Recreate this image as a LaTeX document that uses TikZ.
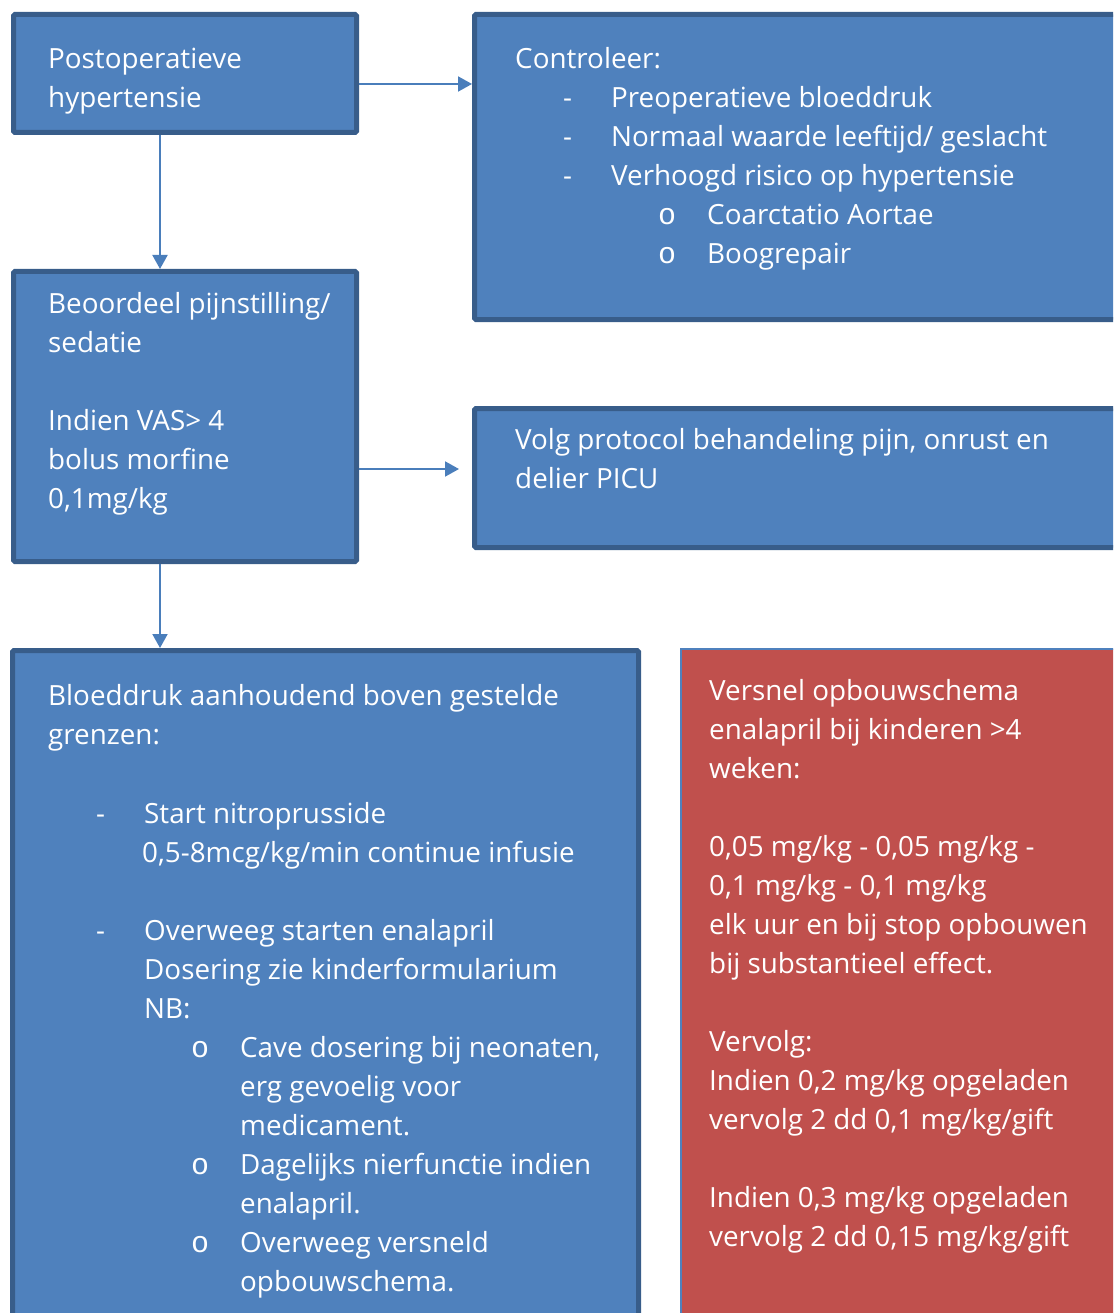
\documentclass[tikz,border=0pt]{standalone}
\usepackage{fontspec}
\setmainfont{Open Sans}
\newfontfamily\bulletfont{Liberation Mono}
\usetikzlibrary{arrows.meta,calc}
\definecolor{boxblue}{HTML}{4F81BD}
\definecolor{boxedge}{HTML}{385D8A}
\definecolor{boxred}{HTML}{C0504D}
\definecolor{arrowblue}{HTML}{4A7EBB}
\tikzset{
  bluebox/.style={draw=boxedge, fill=boxblue, line width=5pt, rounded corners=1.5pt, inner sep=0pt, outer sep=2.5pt, anchor=north west},
  redbox/.style={draw=boxblue, fill=boxred, line width=1.5pt, inner sep=0pt, outer sep=0.75pt, anchor=north west},
  txt/.style={text=white, inner sep=0pt, anchor=base west, font=\fontsize{27.8}{39}\selectfont},
  bul/.style={text=white, inner sep=0pt, anchor=base west, font=\bulletfont\fontsize{30}{39}\selectfont},
  arr/.style={draw=arrowblue, line width=2pt, -{Triangle[length=14pt,width=15pt]}}
}
\newcommand{\tl}[4]{\node[txt] (#1) at (#2,#3) {#4};}
\newcommand{\bl}[4]{\node[bul] (#1) at (#2,#3) {#4};}
\begin{document}
\begin{tikzpicture}[x=1pt,y=-1pt]
\useasboundingbox (0,0) rectangle (1113,1313);
\clip (0,0) rectangle (1113,1313);
% boxes
\node[bluebox, minimum width=343pt, minimum height=118pt] (b1) at (11,12) {};
\node[bluebox, minimum width=343pt, minimum height=290pt] (b2) at (11,269) {};
\node[bluebox, minimum width=660pt, minimum height=305pt] (ctrl) at (472,12) {};
\node[bluebox, minimum width=660pt, minimum height=139pt] (volg) at (472,406) {};
\node[bluebox, minimum width=626pt, minimum height=700pt] (bd) at (10,648) {};
\node[redbox, minimum width=460pt, minimum height=700pt] (red) at (680,648) {};
% arrows
\draw[arr] ([yshift=-10.5pt]b1.east) -- ([yshift=-10.5pt]b1.east -| ctrl.west);
\draw[arr] ([xshift=-25pt]b1.south) -- ([xshift=-25pt]b1.south |- b2.north);
\draw[arr] ([yshift=-52.5pt]b2.east) -- ([yshift=-52.5pt,xshift=-13pt]b2.east -| volg.west);
\draw[arr] ([xshift=-25pt]b2.south) -- ([xshift=-25pt]b2.south |- bd.north);
% box 1
\tl{t11}{48}{69}{Postoperatieve}
\tl{t12}{48}{108}{hypertensie}
% box 2
\tl{t21}{48}{313}{Beoordeel pijnstilling/}
\tl{t22}{48}{352}{sedatie}
\tl{t23}{48}{430}{Indien VAS> 4}
\tl{t24}{48}{469}{bolus morfine}
\tl{t25}{48}{508}{0,1mg/kg}
% controleer
\tl{c1}{515}{69}{Controleer:}
\tl{c2d}{563}{108}{-}
\tl{c2}{611}{108}{Preoperatieve bloeddruk}
\tl{c3d}{563}{147}{-}
\tl{c3}{611}{147}{Normaal waarde leeftijd/ geslacht}
\tl{c4d}{563}{186}{-}
\tl{c4}{611}{186}{Verhoogd risico op hypertensie}
\bl{c5b}{658}{225}{o}
\tl{c5}{707}{225}{Coarctatio Aortae}
\bl{c6b}{658}{264}{o}
\tl{c6}{707}{264}{Boogrepair}
% volg
\tl{v1}{515}{449}{Volg protocol behandeling pijn, onrust en}
\tl{v2}{515}{488}{delier PICU}
% bloeddruk
\tl{d1}{48}{705}{Bloeddruk aanhoudend boven gestelde}
\tl{d2}{48}{744}{grenzen:}
\tl{d3d}{96}{823}{-}
\tl{d3}{144}{823}{Start nitroprusside}
\tl{d4}{142}{862}{0,5-8mcg/kg/min continue infusie}
\tl{d5d}{96}{940}{-}
\tl{d5}{144}{940}{Overweeg starten enalapril}
\tl{d6}{144}{979}{Dosering zie kinderformularium}
\tl{d7}{144}{1018}{NB:}
\bl{d8b}{191}{1057}{o}
\tl{d8}{240}{1057}{Cave dosering bij neonaten,}
\tl{d9}{240}{1096}{erg gevoelig voor}
\tl{d10}{240}{1135}{medicament.}
\bl{d11b}{191}{1174}{o}
\tl{d11}{240}{1174}{Dagelijks nierfunctie indien}
\tl{d12}{240}{1213}{enalapril.}
\bl{d13b}{191}{1252}{o}
\tl{d13}{240}{1252}{Overweeg versneld}
\tl{d14}{240}{1291}{opbouwschema.}
% red
\tl{r1}{709}{700}{Versnel opbouwschema}
\tl{r2}{709}{739}{enalapril bij kinderen >4}
\tl{r3}{709}{778}{weken:}
\tl{r4}{709}{856}{0,05 mg/kg - 0,05 mg/kg -}
\tl{r5}{709}{895}{0,1 mg/kg - 0,1 mg/kg}
\tl{r6}{709}{934}{elk uur en bij stop opbouwen}
\tl{r7}{709}{973}{bij substantieel effect.}
\tl{r8}{709}{1051}{Vervolg:}
\tl{r9}{709}{1090}{Indien 0,2 mg/kg opgeladen}
\tl{r10}{709}{1129}{vervolg 2 dd 0,1 mg/kg/gift}
\tl{r11}{709}{1207}{Indien 0,3 mg/kg opgeladen}
\tl{r12}{709}{1246}{vervolg 2 dd 0,15 mg/kg/gift}
\end{tikzpicture}
\end{document}
